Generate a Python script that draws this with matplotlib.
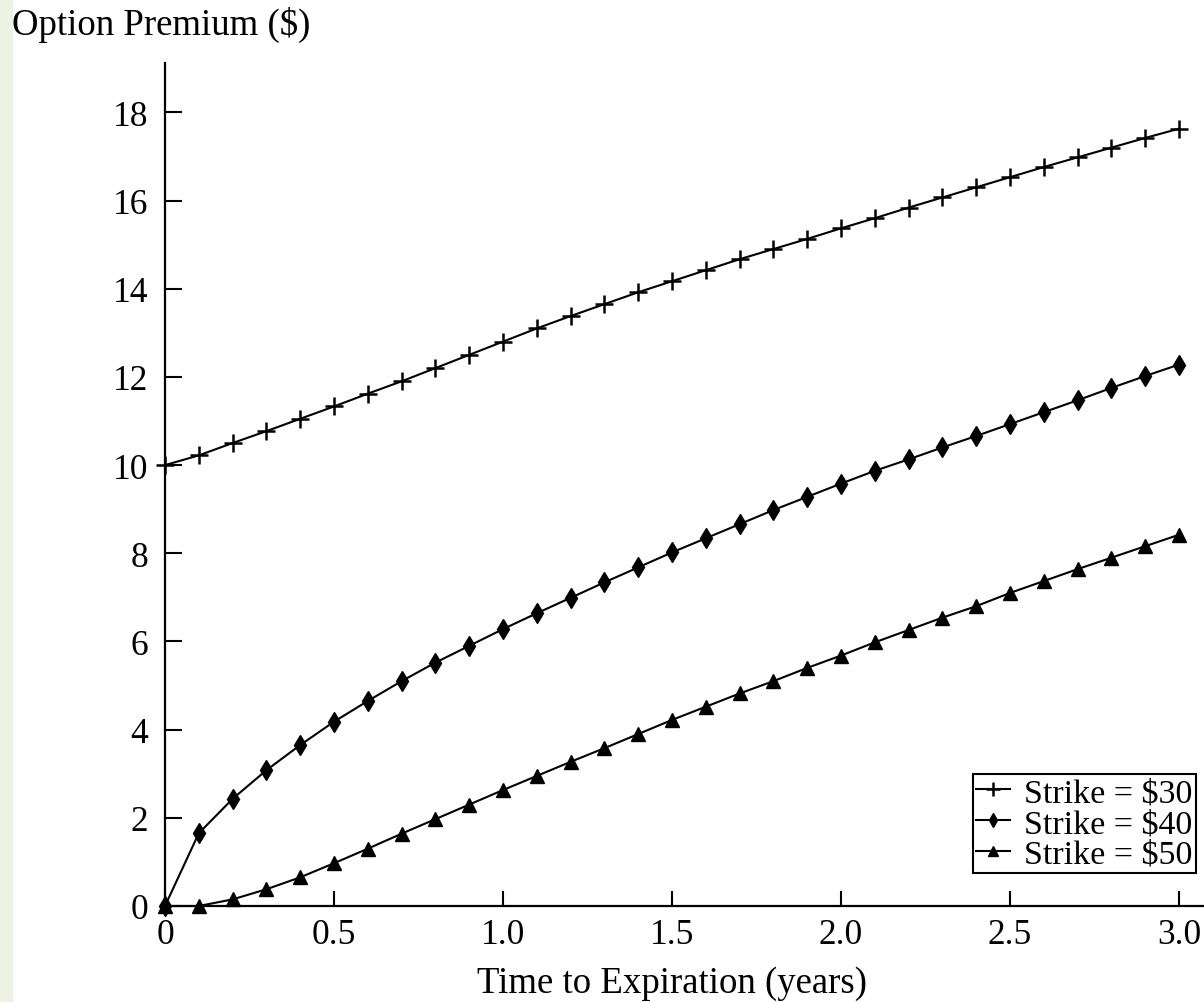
import matplotlib.pyplot as plt
from matplotlib.patches import Rectangle

# time to expiration (years), 0.0 .. 3.0 in steps of 0.1
years = [0.0, 0.1, 0.2, 0.3, 0.4, 0.5, 0.6, 0.7, 0.8, 0.9,
         1.0, 1.1, 1.2, 1.3, 1.4, 1.5, 1.6, 1.7, 1.8, 1.9,
         2.0, 2.1, 2.2, 2.3, 2.4, 2.5, 2.6, 2.7, 2.8, 2.9, 3.0]

strike_30 = [10.0, 10.22, 10.5, 10.77, 11.05, 11.33, 11.62, 11.9, 12.2, 12.5,
             12.8, 13.1, 13.38, 13.65, 13.92, 14.17, 14.42, 14.67, 14.9, 15.13,
             15.37, 15.6, 15.84, 16.07, 16.3, 16.53, 16.76, 16.98, 17.2, 17.42, 17.63]
strike_40 = [0.0, 1.65, 2.43, 3.08, 3.65, 4.18, 4.65, 5.1, 5.52, 5.9,
             6.28, 6.64, 6.99, 7.34, 7.68, 8.02, 8.34, 8.66, 8.98, 9.28,
             9.58, 9.87, 10.13, 10.4, 10.66, 10.93, 11.2, 11.47, 11.75, 12.02, 12.28]
strike_50 = [0.0, 0.0, 0.15, 0.38, 0.65, 0.97, 1.3, 1.64, 1.97, 2.3,
             2.63, 2.95, 3.27, 3.58, 3.9, 4.22, 4.52, 4.82, 5.1, 5.4,
             5.68, 5.98, 6.26, 6.54, 6.8, 7.1, 7.37, 7.64, 7.9, 8.16, 8.42]

x_ticks = [0, 0.5, 1.0, 1.5, 2.0, 2.5, 3.0]
x_labels = ["0", "0.5", "1.0", "1.5", "2.0", "2.5", "3.0"]
y_ticks = [0, 2, 4, 6, 8, 10, 12, 14, 16, 18]

plt.rcParams["font.family"] = ["Liberation Serif", "DejaVu Serif"]

fig = plt.figure(figsize=(12.04, 10.03), dpi=100)
fig.patches.append(Rectangle((0, 0), 12 / 1204, 1, transform=fig.transFigure,
                             color="#eef2e3", zorder=-1))

ax = fig.add_axes([165 / 1204, 96 / 1003, 1 - 165 / 1204, 843 / 1003])

ax.plot(years, strike_30, color="black", lw=1.5, marker="+", ms=13, mew=1.8,
        clip_on=False, label="Strike = $30")
ax.plot(years, strike_40, color="black", lw=1.5, marker="d", ms=10,
        clip_on=False, label="Strike = $40")
ax.plot(years, strike_50, color="black", lw=1.5, marker="^", ms=10,
        clip_on=False, label="Strike = $50")

ax.set_xlim(0, 3.074)
ax.set_ylim(0, 19.12)
ax.set_xticks(x_ticks)
ax.set_xticklabels(x_labels)
ax.set_yticks(y_ticks)

for side in ["top", "right"]:
    ax.spines[side].set_visible(False)
for side in ["left", "bottom"]:
    ax.spines[side].set_linewidth(1.6)

ax.tick_params(axis="both", direction="in", labelsize=25.5, width=1.5)
ax.tick_params(axis="y", length=12, pad=12)
ax.tick_params(axis="x", length=11, pad=9)

fig.text(12 / 1204, 1 - 7 / 1003, "Option Premium ($)", fontsize=26.5,
         ha="left", va="top")
fig.text(672 / 1204, 1 - 984 / 1003, "Time to Expiration (years)", fontsize=26.5,
         ha="center", va="center")

leg = ax.legend(loc="upper left", bbox_to_anchor=(973 / 1204, 1 - 775 / 1003),
                bbox_transform=fig.transFigure, fontsize=24.5, frameon=True,
                fancybox=False, framealpha=1, edgecolor="black",
                borderaxespad=0, borderpad=0.1, labelspacing=0.0,
                handlelength=1.0, handletextpad=0.4, markerscale=0.75)
leg.get_frame().set_linewidth(1.5)

fig.savefig("out.png", dpi=100)
plt.close(fig)
